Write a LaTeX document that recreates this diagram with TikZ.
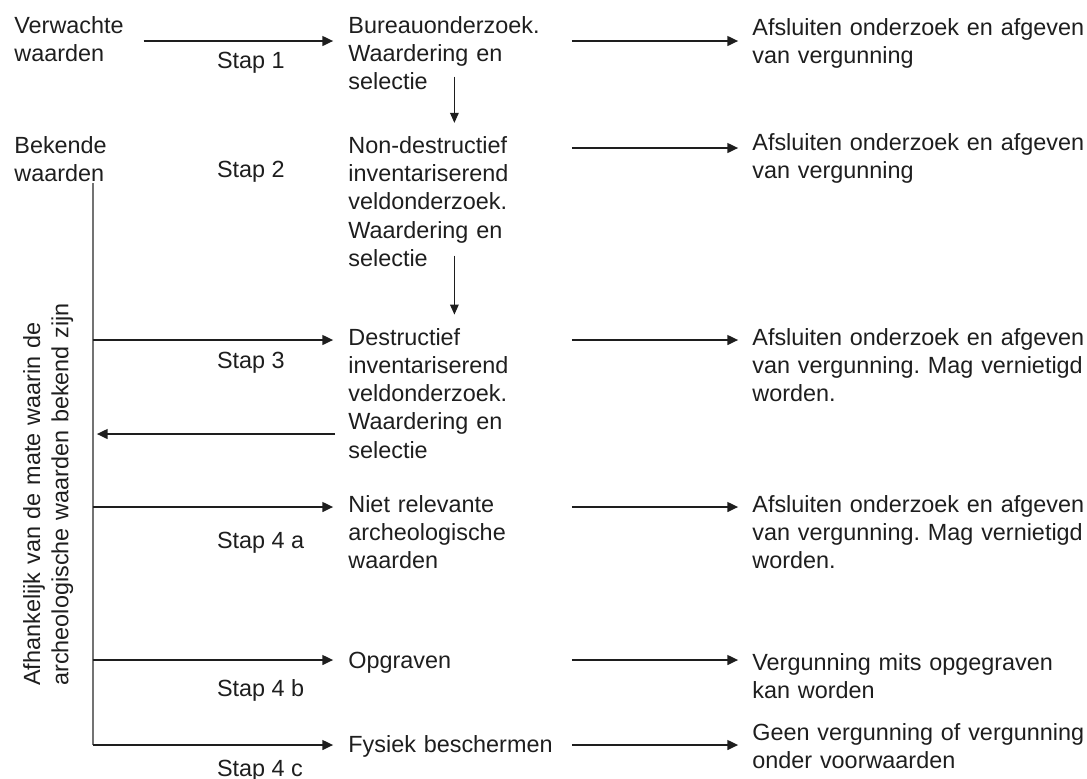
\documentclass[tikz,border=0pt]{standalone}
\usepackage{fontspec}
\setmainfont{Liberation Sans}
\frenchspacing
\usetikzlibrary{arrows.meta,positioning}
\definecolor{inkgray}{RGB}{30,30,30}
\definecolor{spinegray}{RGB}{115,115,115}

\begin{document}
\begin{tikzpicture}[
    x=0.5pt, y=-0.5pt,
    every node/.style={inner sep=0pt, font=\fontsize{11.7pt}{14.15pt}\selectfont, text=inkgray},
    lefttext/.style={anchor=base west, text width=60pt, align=left},
    midtext/.style={anchor=base west, text width=111.5pt, align=left},
    endtext/.style={anchor=base west, text width=180pt, align=left},
    steplabel/.style={anchor=base west},
    arrow/.style={-{Triangle[length=5.5pt,width=4.8pt]}, line width=1.25pt, draw=inkgray},
    downarrow/.style={-{Triangle[length=5pt,width=4.2pt]}, line width=0.8pt, draw=inkgray},
    spine/.style={line width=0.8pt, draw=spinegray}
]
\useasboundingbox (0,0) rectangle (1087,778);

% Starting points
\node[lefttext] (verw) at (14,33.3) {Verwachte\\waarden};
\node[lefttext] (bek) at (14,153.3) {Bekende\\waarden};

% Research steps
\node[midtext] (bureau) at (348,33.3) {Bureauonderzoek.\\Waardering en\\selectie};
\node[midtext] (nondes) at (348,153.3) {Non-destructief\\inventariserend\\veldonderzoek.\\Waardering en\\selectie};
\node[midtext] (destr) at (348,345) {Destructief\\inventariserend\\veldonderzoek.\\Waardering en\\selectie};
\node[midtext] (nietrel) at (348,512) {Niet relevante\\archeologische\\waarden};
\node[midtext] (opgr) at (348,668) {Opgraven};
\node[midtext] (fysiek) at (348,752) {Fysiek beschermen};

% Outcomes
\node[endtext] (end1) at (752,35) {Afsluiten onderzoek en afgeven\\van vergunning};
\node[endtext] (end2) at (752,150) {Afsluiten onderzoek en afgeven\\van vergunning};
\node[endtext] (end3) at (752,345) {Afsluiten onderzoek en afgeven\\van vergunning. Mag vernietigd\\worden.};
\node[endtext] (end4a) at (752,512) {Afsluiten onderzoek en afgeven\\van vergunning. Mag vernietigd\\worden.};
\node[endtext] (end4b) at (752,670) {Vergunning mits opgegraven\\kan worden};
\node[endtext] (end4c) at (752,740) {Geen vergunning of vergunning\\onder voorwaarden};

% Step labels
\node[steplabel] (st1) at (216.7,68.3) {Stap 1};
\node[steplabel] (st2) at (216.7,177.3) {Stap 2};
\node[steplabel] (st3) at (216.7,368.3) {Stap 3};
\node[steplabel] (st4a) at (216.7,548.3) {Stap 4 a};
\node[steplabel] (st4b) at (216.7,696.7) {Stap 4 b};
\node[steplabel] (st4c) at (216.7,776) {Stap 4 c};

% Side note
\node[rotate=90, anchor=base west, text width=200pt, align=left] (dep) at (40,686) {Afhankelijk van de mate waarin de\\archeologische waarden bekend zijn};

% Row heights and spine points
\coordinate (r1) at (0,41);
\coordinate (r2) at (0,148);
\coordinate (spTop) at (92.7,183);
\coordinate (j3) at (92.7,340);
\coordinate (jback) at (92.7,434);
\coordinate (j4a) at (92.7,507);
\coordinate (j4b) at (92.7,660);
\coordinate (j4c) at (92.7,745);

% Spine
\draw[spine] (spTop) -- (j4c);

% Arrows into the steps
\draw[arrow, shorten <=4.35pt, shorten >=7.35pt] (verw.east |- r1) -- (bureau.west |- r1);
\draw[arrow, shorten >=7.35pt] (j3) -- (destr.west |- j3);
\draw[arrow, shorten <=6.5pt, shorten >=2pt] (destr.west |- jback) -- (jback);
\draw[arrow, shorten >=7.35pt] (j4a) -- (nietrel.west |- j4a);
\draw[arrow, shorten >=7.35pt] (j4b) -- (opgr.west |- j4b);
\draw[arrow, shorten >=7.35pt] (j4c) -- (fysiek.west |- j4c);

% Downward arrows
\draw[downarrow] ([xshift=-2.75pt,yshift=7pt]bureau.south) -- ([xshift=-2.75pt,yshift=6.5pt]nondes.north);
\draw[downarrow] ([xshift=-2.75pt,yshift=5.7pt]nondes.south) -- ([xshift=-2.75pt,yshift=6.5pt]destr.north);

% Arrows to the outcomes
\draw[arrow, shorten >=6.85pt] (bureau.east |- r1) -- (end1.west |- r1);
\draw[arrow, shorten >=6.85pt] (nondes.east |- r2) -- (end2.west |- r2);
\draw[arrow, shorten >=6.85pt] (destr.east |- j3) -- (end3.west |- j3);
\draw[arrow, shorten >=6.85pt] (nietrel.east |- j4a) -- (end4a.west |- j4a);
\draw[arrow, shorten >=6.85pt] (opgr.east |- j4b) -- (end4b.west |- j4b);
\draw[arrow, shorten >=6.85pt] (fysiek.east |- j4c) -- (end4c.west |- j4c);

\end{tikzpicture}
\end{document}
